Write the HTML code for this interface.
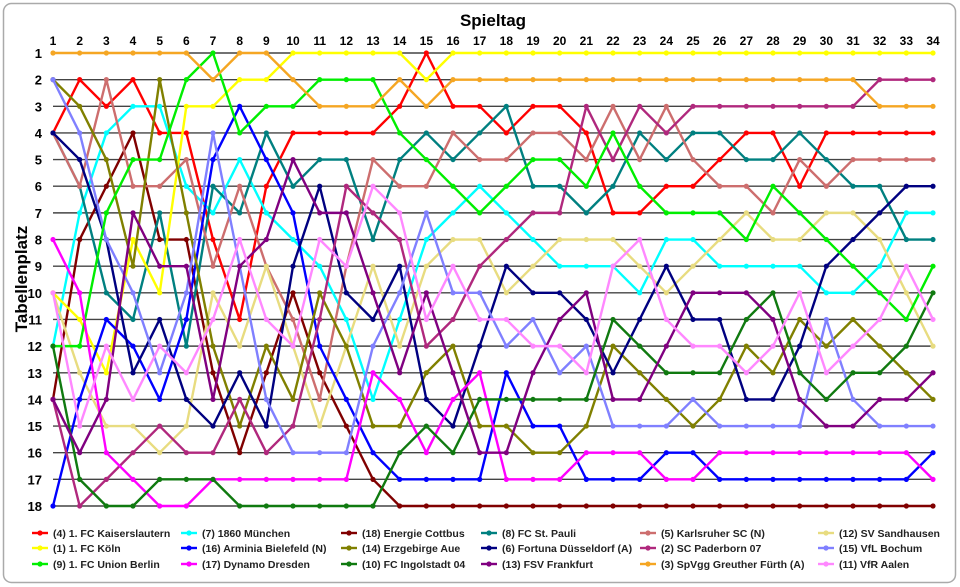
<!DOCTYPE html>
<html><head><meta charset="utf-8"><style>
html,body{margin:0;padding:0;background:#fff;}
svg{display:block;font-family:"Liberation Sans",sans-serif;}
</style></head><body>
<svg id="chart" width="960" height="587" viewBox="0 0 960 587" xmlns="http://www.w3.org/2000/svg">
<rect x="3.5" y="3.5" width="952" height="579" rx="8" fill="#fff" stroke="#aaa" stroke-width="1.5"/>
<text x="493" y="26" text-anchor="middle" font-size="17" font-weight="bold">Spieltag</text>
<text transform="translate(27,279) rotate(-90)" text-anchor="middle" font-size="17" font-weight="bold">Tabellenplatz</text>
<g id="grid"></g><g id="xt"></g><g id="yt"></g><g id="series"></g><g id="legend"></g>
</svg>
<script>
const matchdays=[1,2,3,4,5,6,7,8,9,10,11,12,13,14,15,16,17,18,19,20,21,22,23,24,25,26,27,28,29,30,31,32,33,34];
const ranks=[1,2,3,4,5,6,7,8,9,10,11,12,13,14,15,16,17,18];
const teamNames=["(4) 1. FC Kaiserslautern","(7) 1860 München","(18) Energie Cottbus","(8) FC St. Pauli","(5) Karlsruher SC (N)","(12) SV Sandhausen","(1) 1. FC Köln","(16) Arminia Bielefeld (N)","(14) Erzgebirge Aue","(6) Fortuna Düsseldorf (A)","(2) SC Paderborn 07","(15) VfL Bochum","(9) 1. FC Union Berlin","(17) Dynamo Dresden","(10) FC Ingolstadt 04","(13) FSV Frankfurt","(3) SpVgg Greuther Fürth (A)","(11) VfR Aalen"];
const teamColors=["#ff0000","#00ffff","#800000","#008080","#cd6e6e","#e8dc80","#ffff00","#0000ff","#808000","#000080","#b0287d","#8080ff","#00ee00","#ff00ff","#107a10","#800080","#f5a623","#ff88ff"];
const rKL=[4,2,3,2,4,4,8,11,6,4,4,4,4,3,1,3,3,4,3,3,4,7,7,6,6,5,4,4,6,4,4,4,4,4];
const r1860=[12,7,4,3,3,6,7,5,7,8,9,11,14,11,8,7,6,7,8,9,9,9,10,8,8,9,9,9,9,10,10,9,7,7];
const rCottbus=[14,8,6,4,8,8,13,16,13,10,13,15,17,18,18,18,18,18,18,18,18,18,18,18,18,18,18,18,18,18,18,18,18,18];
const rPauli=[4,6,10,11,7,12,6,7,4,6,5,5,8,5,4,5,4,3,6,6,7,6,4,5,4,4,5,5,4,5,6,6,8,8];
const rKSC=[4,6,2,6,6,5,9,6,9,11,14,9,5,6,6,4,5,5,4,4,5,3,5,3,5,6,6,7,5,6,5,5,5,5];
const rSand=[10,13,15,15,16,15,10,12,9,12,15,12,9,12,9,8,8,10,9,8,8,8,9,10,9,8,7,8,8,7,7,8,10,12];
const rKoeln=[10,11,13,8,10,3,3,2,2,1,1,1,1,1,2,1,1,1,1,1,1,1,1,1,1,1,1,1,1,1,1,1,1,1];
const rBiel=[18,14,11,12,14,11,5,3,5,7,12,14,16,17,17,17,17,13,15,15,17,17,17,16,16,17,17,17,17,17,17,17,17,16];
const rAue=[2,3,5,9,2,7,12,15,12,14,10,12,15,15,13,12,15,15,16,16,15,12,13,14,15,14,12,13,11,12,11,12,13,14];
const rFort=[4,5,8,13,11,14,15,13,15,9,6,10,11,9,14,15,12,9,10,10,11,13,11,9,11,11,14,14,12,9,8,7,6,6];
const rPad=[14,18,17,16,15,16,16,14,16,15,11,6,7,8,12,11,9,8,7,7,3,5,3,4,3,3,3,3,3,3,3,2,2,2];
const rBoch=[2,4,8,10,13,10,4,9,14,16,16,16,12,10,7,10,10,12,11,13,12,15,15,15,14,15,15,15,15,11,14,15,15,15];
const rUnion=[12,12,7,5,5,2,1,4,3,3,2,2,2,4,5,6,7,6,5,5,6,4,6,7,7,7,8,6,7,8,9,10,11,9];
const rDresden=[8,10,16,17,18,18,17,17,17,17,17,17,13,14,16,14,13,17,17,17,16,16,16,17,17,16,16,16,16,16,16,16,16,17];
const rIngol=[12,17,18,18,17,17,17,18,18,18,18,18,18,16,15,16,14,14,14,14,14,11,12,13,13,13,11,10,13,14,13,13,12,10];
const rFSV=[14,16,14,7,9,9,14,9,8,5,7,7,10,13,10,13,16,16,13,11,10,14,14,12,10,10,10,11,14,15,15,14,14,13];
const rFuerth=[1,1,1,1,1,1,2,1,1,2,3,3,3,2,3,2,2,2,2,2,2,2,2,2,2,2,2,2,2,2,2,3,3,3];
const rAalen=[10,15,12,14,12,13,11,8,11,12,8,9,6,7,11,9,11,11,12,12,13,9,8,11,12,12,13,12,10,13,12,11,9,11];
const series=[rKL,r1860,rCottbus,rPauli,rKSC,rSand,rKoeln,rBiel,rAue,rFort,rPad,rBoch,rUnion,rDresden,rIngol,rFSV,rFuerth,rAalen];

const NS="http://www.w3.org/2000/svg";
const X0=53,X1=933,Y0=53,Y1=506;
function xScale(m){return X0+(m-1)*(X1-X0)/(matchdays.length-1);}
function yScale(r){return Y0+(r-1)*(Y1-Y0)/(ranks.length-1);}
function mk(tag,attrs,parent){const e=document.createElementNS(NS,tag);for(const k in attrs)e.setAttribute(k,attrs[k]);parent.appendChild(e);return e;}
const grid=document.getElementById('grid'),xt=document.getElementById('xt'),yt=document.getElementById('yt'),sg=document.getElementById('series'),lg=document.getElementById('legend');
ranks.forEach(r=>{
  const l=mk('line',{x1:X0,x2:X1+2,y1:yScale(r),y2:yScale(r),stroke:'#444','stroke-width':1.4},grid);
  
  
  const t=mk('text',{x:42,y:yScale(r)+5,'text-anchor':'end','font-size':13,'font-weight':'bold'},yt);
  t.textContent=r;
  
  
});
matchdays.forEach(m=>{
  const t=mk('text',{x:xScale(m),y:45,'text-anchor':'middle','font-size':12,'font-weight':'bold'},xt);
  t.textContent=m;
  
  
});
series.forEach((arr,i)=>{
  const g=mk('g',{},sg);
  
  
  const pts=arr.map((r,j)=>xScale(matchdays[j])+','+yScale(r)).join(' ');
  const pl=mk('polyline',{points:pts,fill:'none',stroke:teamColors[i],'stroke-width':2.4,'stroke-linejoin':'round'},g);
  
  
  arr.forEach((r,j)=>{
    const c=mk('circle',{cx:xScale(matchdays[j]),cy:yScale(r),r:2.6,fill:teamColors[i]},g);
    
    
  });
});
const colX=[32,181,341,481,640,818],rowY=[533,548,564];
teamNames.forEach((n,i)=>{
  const row=Math.floor(i/6),col=i%6;
  const g=mk('g',{},lg);
  
  
  const x=colX[col],y=rowY[row];
  mk('line',{x1:x,x2:x+16,y1:y,y2:y,stroke:teamColors[i],'stroke-width':2.4},g);
  mk('circle',{cx:x+8,cy:y,r:2.6,fill:teamColors[i]},g);
  const t=mk('text',{x:x+21,y:y+4,'font-size':10.5,'font-weight':'bold',fill:'#222'},g);
  t.textContent=n;
});
</script>
</body></html>
